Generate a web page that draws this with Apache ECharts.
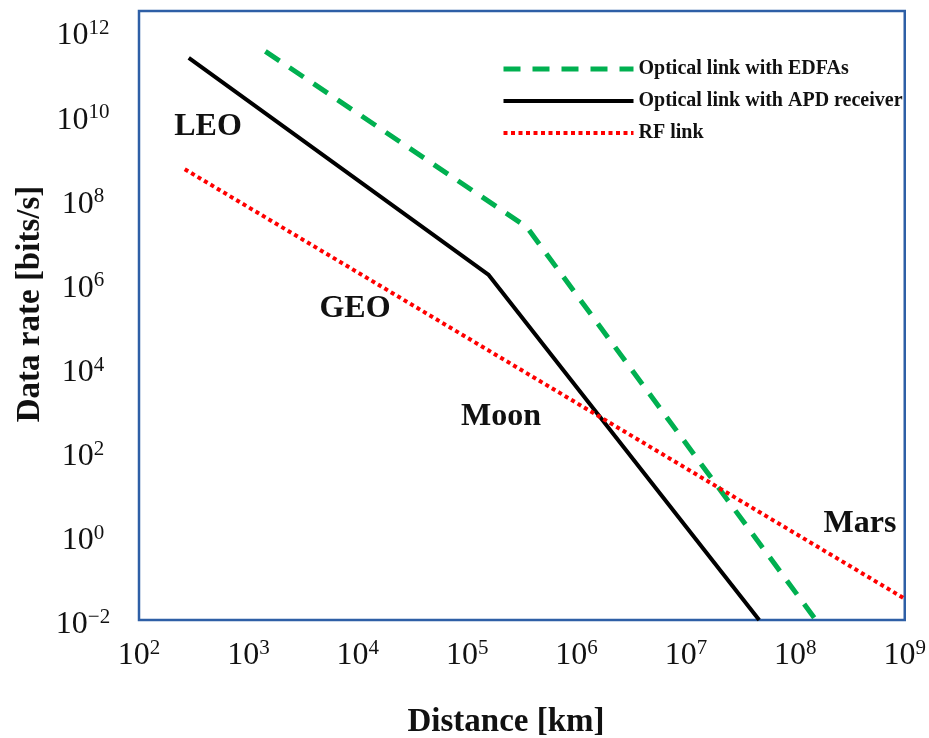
<!DOCTYPE html>
<html><head><meta charset="utf-8">
<script src="https://cdn.jsdelivr.net/npm/echarts@6/dist/echarts.min.js"></script>
<style>html,body{margin:0;padding:0;background:#fff}#c{width:929px;height:738px}</style>
</head><body><div id="c"></div>
<script>
// Distance [km] and data rate [bits/s]
const edfaX = [1430, 3.5e5, 1.54e8];
const edfaY = [3.3e11, 2.2e7, 0.01];
const apdX = [285, 1.56e5, 4.67e7];
const apdY = [2.3e11, 1.63e6, 0.01];
const rfX = [262, 1e9];
const rfY = [5.2e8, 0.032];
const seriesNames = ['Optical link with EDFAs', 'Optical link with APD receiver', 'RF link'];
const xTickExps = ['2', '3', '4', '5', '6', '7', '8', '9'];
const yTickExps = ['\u22122', '0', '2', '4', '6', '8', '10', '12'];
const regionLabels = ['LEO', 'GEO', 'Moon', 'Mars'];

const FONT = 'Liberation Serif';
const styles = [
  { color: '#00b050', width: 5, type: [17, 12], cap: 'butt' },
  { color: '#000000', width: 4, type: 'solid', cap: 'butt' },
  { color: '#ff0000', width: 4, type: [4, 3.5], cap: 'butt' }
];
function pairs(xs, ys) { return xs.map((x, i) => [x, ys[i]]); }
function expLabel(list, offset, step) {
  return function (v) {
    const l = Math.log10(v);
    const e = Math.round(l);
    if (Math.abs(l - e) > 0.01) return '';
    const s = list[(e - offset) / step];
    return s === undefined ? '' : '{b|10}{s|' + s + '}';
  };
}
const rich = {
  b: { fontSize: 32, fontFamily: FONT, color: '#111', lineHeight: 36 },
  s: { fontSize: 21, fontFamily: FONT, color: '#111', lineHeight: 21, verticalAlign: 'top' }
};
const boldText = (text, x, y, size, rot) => ({
  type: 'text', x: x, y: y, rotation: rot || 0,
  style: { text: text, font: 'bold ' + size + 'px "' + FONT + '"', fill: '#111', align: 'center', verticalAlign: 'middle' },
  z: 100
});

const chart = echarts.init(document.getElementById('c'), null, { renderer: 'canvas' });
chart.setOption({
  animation: false,
  backgroundColor: '#fff',
  grid: { left: 139, top: 11, right: 20, bottom: 118, show: true, borderColor: '#2e5fa6', borderWidth: 2.5, backgroundColor: 'transparent' },
  xAxis: {
    type: 'log', logBase: 10, min: 100, max: 1e9, interval: 1,
    axisLine: { show: false }, axisTick: { show: false }, splitLine: { show: false }, minorTick: { show: false },
    axisLabel: { margin: 18, formatter: expLabel(xTickExps, 2, 1), rich: rich, showMinLabel: true, showMaxLabel: true, hideOverlap: false }
  },
  yAxis: {
    type: 'log', logBase: 10, min: 0.01, max: 3e12, interval: 2,
    axisLine: { show: false }, axisTick: { show: false }, splitLine: { show: false },
    axisLabel: { margin: 56, align: 'center', padding: [10, 0, 0, 0], formatter: expLabel(yTickExps, -2, 2), rich: rich, showMinLabel: true, hideOverlap: false }
  },
  legend: {
    orient: 'vertical', left: 496, top: 54, itemWidth: 130, itemHeight: 20, itemGap: 12,
    itemStyle: { opacity: 0, borderWidth: 0 },
    data: seriesNames.map((n, i) => ({
      name: n,
      itemStyle: { opacity: 0, borderWidth: 0 },
      lineStyle: { color: styles[i].color, width: styles[i].width, type: styles[i].type, cap: 'butt' }
    })),
    textStyle: { fontFamily: FONT, fontWeight: 'bold', fontSize: 20, color: '#111' }
  },
  series: seriesNames.map((n, i) => ({
    name: n, type: 'line',
    data: [pairs(edfaX, edfaY), pairs(apdX, apdY), pairs(rfX, rfY)][i],
    symbol: 'none', showSymbol: false,
    lineStyle: styles[i], itemStyle: { color: styles[i].color },
    z: [3, 2, 4][i]
  })),
  graphic: [
    boldText('Distance [km]', 506, 722, 33),
    boldText('Data rate [bits/s]', 30, 304, 33, Math.PI / 2),
    boldText(regionLabels[0], 208, 127, 32),
    boldText(regionLabels[1], 355, 309, 32),
    boldText(regionLabels[2], 501, 417, 32),
    boldText(regionLabels[3], 860, 524, 32)
  ]
});
</script></body></html>
